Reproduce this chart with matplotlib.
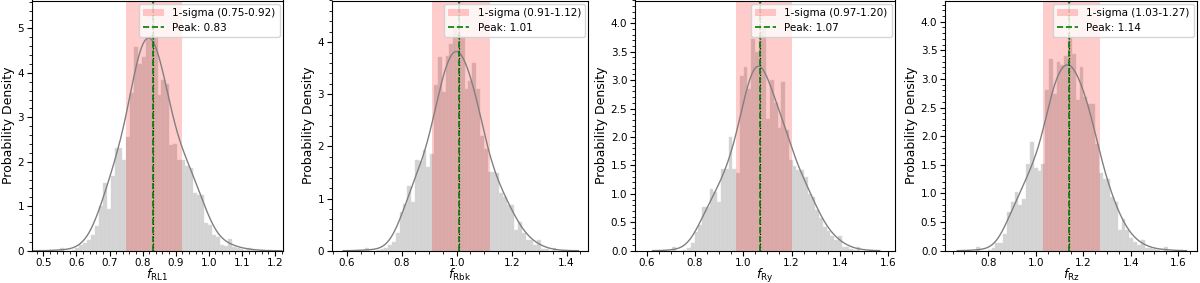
import numpy as np
import matplotlib
matplotlib.use("Agg")
import matplotlib.pyplot as plt

# parameter names shown on the x axes
PARAM_LABELS = [r"$f_{\rm RL1}$", r"$f_{\rm Rbk}$", r"$f_{\rm Ry}$", r"$f_{\rm Rz}$"]

# histogram range (first edge, last edge), 50 bins each
HIST_RANGES = [(0.55, 1.14), (0.667, 1.363), (0.705, 1.485), (0.75, 1.555)]

# bar heights (probability density)
DENSITY_RL1 = [
    0.07, 0.0, 0.0, 0.02, 0.05, 0.12, 0.17, 0.24, 0.35, 0.55,
    1.0, 1.53, 0.93, 1.67, 2.3, 2.3, 2.05, 2.56, 3.55, 4.58,
    4.2, 4.35, 4.8, 4.85, 4.81, 3.5, 3.84, 3.76, 2.38, 2.4,
    2.05, 2.05, 1.9, 1.85, 1.3, 1.25, 1.25, 0.62, 0.58, 0.35,
    0.3, 0.12, 0.1, 0.26, 0.08, 0.05, 0.03, 0.02, 0.07, 0.02,
]
DENSITY_RBK = [
    0.06, 0.0, 0.0, 0.02, 0.03, 0.05, 0.1, 0.16, 0.34, 0.75,
    0.89, 1.24, 0.93, 1.74, 1.72, 1.93, 1.6, 1.86, 3.17, 3.71,
    3.04, 3.74, 3.97, 4.25, 4.16, 4.1, 3.1, 3.25, 3.6, 3.1,
    2.2, 1.96, 1.51, 1.51, 1.5, 1.1, 1.03, 0.87, 0.87, 0.4,
    0.55, 0.33, 0.2, 0.2, 0.1, 0.2, 0.03, 0.03, 0.0, 0.05,
]
DENSITY_RY = [
    0.06, 0.0, 0.0, 0.02, 0.05, 0.14, 0.33, 0.45, 0.77, 0.77,
    1.09, 1.03, 0.86, 1.44, 1.44, 2.0, 1.44, 1.36, 3.08, 3.23,
    2.85, 3.72, 3.5, 3.85, 3.95, 2.32, 3.0, 2.6, 2.15, 2.96,
    2.12, 1.6, 1.49, 1.42, 1.42, 1.3, 1.0, 0.95, 0.71, 0.57,
    0.42, 0.35, 0.25, 0.19, 0.25, 0.07, 0.07, 0.03, 0.02, 0.06,
]
DENSITY_RZ = [
    0.06, 0.0, 0.0, 0.02, 0.04, 0.13, 0.13, 0.3, 0.68, 0.85,
    1.03, 0.8, 0.91, 1.52, 1.9, 1.45, 1.4, 1.52, 2.8, 3.35,
    2.74, 3.3, 3.25, 3.4, 3.73, 3.44, 2.63, 3.2, 2.69, 2.57,
    2.57, 1.87, 1.35, 1.26, 1.26, 0.94, 0.85, 0.36, 0.56, 0.36,
    0.22, 0.16, 0.1, 0.19, 0.04, 0.04, 0.03, 0.02, 0.0, 0.06,
]
DENSITIES = [DENSITY_RL1, DENSITY_RBK, DENSITY_RY, DENSITY_RZ]

SIGMA_LOW = [0.75, 0.91, 0.97, 1.03]
SIGMA_HIGH = [0.92, 1.12, 1.20, 1.27]
PEAKS = [0.83, 1.01, 1.07, 1.14]

# axes limits as in the reference
X_LIMITS = [(0.465, 1.223), (0.545, 1.479), (0.552, 1.628), (0.618, 1.679)]
Y_LIMITS = [(0, 5.63), (0, 4.8), (0, 4.40), (0, 4.37)]

# axes boxes in pixels: left, right (figure is 1200 x 283)
AXES_PX = [(31.7, 282.7), (331.7, 588.3), (635.0, 895.0), (945.0, 1197.0)]
AXES_BOTTOM_PX = 32.3
FIG_W, FIG_H = 1200, 283


def weighted_kde(centers, weights, grid):
    # gaussian kde of the binned sample, normalised to unit area
    # like a density-stat histogram
    centers = np.asarray(centers)
    weights = np.asarray(weights)
    mean = np.average(centers, weights=weights)
    std = np.sqrt(np.average((centers - mean) ** 2, weights=weights))
    bw = std * 0.33
    z = (grid[:, None] - centers[None, :]) / bw
    dens = (weights[None, :] * np.exp(-0.5 * z**2)).sum(axis=1)
    return dens / (weights.sum() * bw * np.sqrt(2 * np.pi))


def draw_panel(ax, idx):
    lo, hi = HIST_RANGES[idx]
    heights = np.asarray(DENSITIES[idx])
    edges = np.linspace(lo, hi, len(heights) + 1)
    centers = 0.5 * (edges[:-1] + edges[1:])

    ax.hist(centers, bins=edges, weights=heights, color="#d3d3d3",
            edgecolor="#dcdcdc", linewidth=0.3)
    ax.axvspan(SIGMA_LOW[idx], SIGMA_HIGH[idx], color="red", alpha=0.2, lw=0,
               label=f"1-sigma ({SIGMA_LOW[idx]:.2f}-{SIGMA_HIGH[idx]:.2f})")

    grid = np.linspace(lo - 0.08, hi + 0.08, 400)
    ax.plot(grid, weighted_kde(centers, heights, grid), color="gray", lw=1.0)

    ax.axvline(PEAKS[idx], color="black", ls=":", lw=0.9)
    ax.axvline(PEAKS[idx], color="green", ls="--", lw=1.2,
               label=f"Peak: {PEAKS[idx]:.2f}")

    ax.set_xlim(*X_LIMITS[idx])
    ax.set_ylim(*Y_LIMITS[idx])
    ax.minorticks_on()
    ax.tick_params(labelsize=7.5, pad=2)
    ax.set_xlabel(PARAM_LABELS[idx], fontsize=9, labelpad=-1)
    ax.set_ylabel("Probability Density", fontsize=9, labelpad=2)
    ax.legend(loc="upper right", fontsize=7.5, borderaxespad=0.3)


def main() -> None:
    fig = plt.figure(figsize=(FIG_W / 100, FIG_H / 100), dpi=100)
    bottom = AXES_BOTTOM_PX / FIG_H
    height = 1 - bottom - 0.5 / FIG_H
    for idx, (left, right) in enumerate(AXES_PX):
        ax = fig.add_axes([left / FIG_W, bottom, (right - left) / FIG_W, height])
        draw_panel(ax, idx)

    fig.savefig("out.png", dpi=100)


if __name__ == "__main__":
    main()
